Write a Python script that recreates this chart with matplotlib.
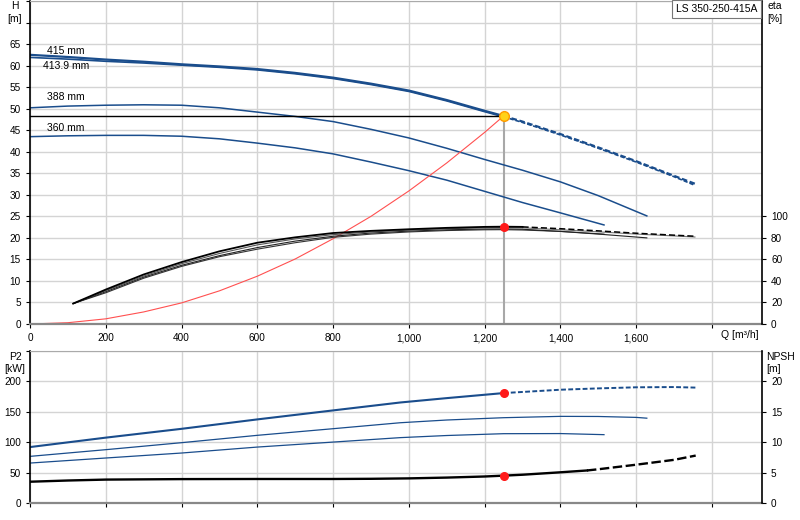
import numpy as np
import matplotlib
matplotlib.use('Agg')
import matplotlib.pyplot as plt
from matplotlib.ticker import FixedLocator, FuncFormatter

plt.rcParams['font.family'] = ['Liberation Sans', 'DejaVu Sans']

# ---- data ----
q_415 = [0, 100, 200, 300, 400, 500, 600, 700, 800, 900, 1000, 1100, 1200, 1250, 1300, 1400, 1500, 1600, 1700, 1760]
h_415 = [62.5, 62.0, 61.4, 60.9, 60.3, 59.8, 59.2, 58.3, 57.2, 55.8, 54.2, 52.0, 49.5, 48.3, 47.0, 44.1, 41.0, 37.8, 34.4, 32.4]
q_413 = [0, 100, 200, 300, 400, 500, 600, 700, 800, 900, 1000, 1100, 1200, 1250, 1300, 1400, 1500, 1600, 1700, 1755]
h_413 = [61.9, 61.5, 61.0, 60.6, 60.1, 59.6, 59.0, 58.1, 57.0, 55.6, 54.0, 51.8, 49.3, 48.1, 46.8, 43.9, 40.8, 37.6, 34.2, 32.2]
q_388 = [0, 100, 200, 300, 400, 500, 600, 700, 800, 900, 1000, 1100, 1200, 1300, 1400, 1500, 1628]
h_388 = [50.2, 50.6, 50.8, 50.9, 50.8, 50.2, 49.2, 48.2, 47.0, 45.2, 43.2, 40.8, 38.2, 35.7, 33.0, 29.8, 25.1]
q_360 = [0, 100, 200, 300, 400, 500, 600, 700, 800, 900, 1000, 1100, 1200, 1300, 1400, 1515]
h_360 = [43.5, 43.7, 43.8, 43.8, 43.6, 43.0, 42.0, 40.9, 39.5, 37.6, 35.6, 33.4, 30.8, 28.2, 25.8, 23.0]

# system curve
q_sys = [0, 100, 200, 300, 400, 500, 600, 700, 800, 900, 1000, 1100, 1200, 1250]
h_sys = [0, 0.3, 1.2, 2.8, 4.9, 7.7, 11.1, 15.1, 19.8, 25.0, 30.9, 37.4, 44.5, 48.3]

# efficiency [%]
q_eta = [114, 200, 300, 400, 500, 600, 700, 800, 900, 1000, 1100, 1200, 1250, 1300, 1400, 1500, 1600, 1700, 1755]
eta_415 = [19, 32, 46, 57.5, 67.5, 75.5, 80.5, 84.5, 86.5, 88, 89.3, 90.2, 90.4, 90.2, 88.5, 86.5, 84.3, 82.5, 81.5]
eta_413 = [19, 31, 44.5, 56, 65.5, 73.5, 79, 83, 85.5, 87.2, 88.5, 89.3, 89.5, 89.3, 87.5, 85.6, 83.5, 81.8, 80.8]
q_eta388 = [114, 200, 300, 400, 500, 600, 700, 800, 900, 1000, 1100, 1200, 1250, 1300, 1400, 1500, 1628]
eta_388 = [19, 30, 43.5, 54.5, 63.5, 71, 77, 81.5, 84.5, 86.3, 87.5, 88.2, 88.3, 88, 86, 83.5, 80]
q_eta360 = [114, 200, 300, 400, 500, 600, 700, 800, 900, 1000, 1100, 1200, 1250, 1300, 1400, 1515]
eta_360 = [19, 29, 42.5, 53.5, 62.5, 69.5, 75.5, 80.5, 83.5, 85.5, 86.8, 87.5, 87.6, 87.3, 86, 83.5]

# shaft power P2 [kW]
q_p415 = [0, 200, 400, 600, 800, 977, 1100, 1250, 1400, 1500, 1600, 1700, 1757]
p2_415 = [92, 107.5, 122, 137.5, 152.3, 165.3, 172.5, 180.8, 186.3, 188.5, 190.3, 190.7, 189.8]
q_p388 = [0, 200, 400, 600, 800, 977, 1100, 1250, 1400, 1500, 1600, 1628]
p2_388 = [76.7, 87.7, 99.2, 111.3, 122.2, 132, 136.5, 140.3, 142.5, 142.3, 140.8, 139.5]
q_p360 = [0, 200, 400, 600, 800, 977, 1100, 1250, 1400, 1515]
p2_360 = [65.7, 74, 82.2, 92, 100.2, 107.5, 111, 114, 114.2, 112.4]

# NPSH [m]
q_npsh = [0, 100, 200, 400, 600, 800, 900, 1000, 1100, 1200, 1250, 1300, 1400, 1470, 1500, 1600, 1700, 1757]
npsh = [3.5, 3.7, 3.85, 3.93, 3.95, 3.95, 3.98, 4.05, 4.18, 4.36, 4.5, 4.65, 5.05, 5.35, 5.55, 6.3, 7.1, 7.8]

op_q, op_h, op_eta, op_p2, op_npsh = 1250, 48.3, 90.2, 180.8, 4.5

diam_labels = ['415 mm', '413.9 mm', '388 mm', '360 mm']
diam_label_pos = [(45, 63.4), (34, 60.0), (45, 52.8), (45, 45.6)]

blue = '#1a4d8c'
grid_c = '#d4d4d4'


def split(q, v, at):
    q = np.asarray(q, float)
    v = np.asarray(v, float)
    return (q[q <= at], v[q <= at]), (q[q >= at], v[q >= at])


def q_fmt(x, pos):
    if x >= 1800:
        return ''
    return f'{int(x):,}'


fig = plt.figure(figsize=(8, 5.2), dpi=100)
ax1 = fig.add_axes([30 / 800, 1 - 324 / 520, 732 / 800, 323 / 520])
ax2 = fig.add_axes([30 / 800, 1 - 503 / 520, 732 / 800, 152 / 520])

for ax in (ax1, ax2):
    ax.set_xlim(0, 1932)
    ax.xaxis.set_major_locator(FixedLocator(np.arange(0, 1801, 200)))
    ax.grid(True, color=grid_c, lw=1)
    ax.set_axisbelow(True)
    ax.tick_params(direction='out', length=3, labelsize=7.2, width=0.8)
    ax.spines['left'].set_color('black')
    ax.spines['left'].set_linewidth(1.2)
    ax.spines['bottom'].set_color('#888888')
    ax.spines['bottom'].set_linewidth(1.6)
    ax.spines['top'].set_color('#aaaaaa')
    ax.spines['right'].set_visible(False)

ax1.set_ylim(0, 75)
ax1.yaxis.set_major_locator(FixedLocator(np.arange(0, 76, 5)))
ax1.yaxis.set_major_formatter(FuncFormatter(lambda y, p: '' if y > 65 else f'{int(y)}'))
ax1.xaxis.set_major_formatter(FuncFormatter(q_fmt))

ax2.set_ylim(0, 250)
ax2.yaxis.set_major_locator(FixedLocator(np.arange(0, 251, 50)))
ax2.yaxis.set_major_formatter(FuncFormatter(lambda y, p: '' if y > 200 else f'{int(y)}'))
ax2.xaxis.set_major_formatter(FuncFormatter(lambda x, p: ''))

# right axes
ax1r = ax1.twinx()
ax1r.set_ylim(0, 300)
ax1r.yaxis.set_major_locator(FixedLocator(np.arange(0, 101, 20)))
ax2r = ax2.twinx()
ax2r.set_ylim(0, 25)
ax2r.yaxis.set_major_locator(FixedLocator(np.arange(0, 21, 5)))
for axr in (ax1r, ax2r):
    axr.tick_params(direction='out', length=3, labelsize=7.2, width=0.8)
    axr.spines['right'].set_color('black')
    axr.spines['right'].set_linewidth(1.2)
    for s in ('left', 'top', 'bottom'):
        axr.spines[s].set_visible(False)

# ---- H curves ----
dash = (0, (2.5, 1.2))
for q, h, lw in ((q_413, h_413, 1.2), (q_415, h_415, 1.6)):
    (qs, hs), (qd, hd) = split(q, h, op_q)
    ax1.plot(qs, hs, color=blue, lw=lw)
    ax1.plot(qd, hd, color=blue, lw=lw, ls=dash)
ax1.plot(q_388, h_388, color=blue, lw=1.1)
ax1.plot(q_360, h_360, color=blue, lw=1.1)

for txt, (x, y) in zip(diam_labels, diam_label_pos):
    ax1.text(x, y, txt, fontsize=7.5, va='center', ha='left')

ax1.plot(q_sys, h_sys, color='#ff5050', lw=0.8)
ax1.plot([0, op_q], [op_h, op_h], color='black', lw=1.0)
ax1.plot([op_q, op_q], [0, op_h], color='#a8a8a8', lw=1.5, zorder=1.5)

# ---- efficiency ----
ax1r.plot(q_eta360, eta_360, color='#333333', lw=0.8)
ax1r.plot(q_eta388, eta_388, color='#222222', lw=0.8)
(qs, es), (qd, ed) = split(q_eta, eta_413, 1300)
ax1r.plot(qs, es, color='#555555', lw=0.8)
ax1r.plot(qd, ed, color='#777777', lw=0.8)
(qs, es), (qd, ed) = split(q_eta, eta_415, 1300)
ax1r.plot(qs, es, color='black', lw=1.3)
ax1r.plot(qd, ed, color='black', lw=1.1, ls=(0, (4, 2)))

ax1r.plot(op_q, op_eta, 'o', color='#ff1a1a', ms=5.5, zorder=5)
ax1.plot(op_q, op_h, 'o', mfc='#ffd21a', mec='#ff9a00', ms=7, mew=1, zorder=6)

# ---- P2 ----
(qs, ps), (qd, pd) = split(q_p415, p2_415, op_q)
ax2.plot(qs, ps, color=blue, lw=1.5)
ax2.plot(qd, pd, color=blue, lw=1.4, ls=dash)
ax2.plot(q_p388, p2_388, color=blue, lw=0.9)
ax2.plot(q_p360, p2_360, color=blue, lw=0.9)
ax2.plot(op_q, op_p2, 'o', color='#ff1a1a', ms=5.5, zorder=5)

# ---- NPSH ----
(qs, ns), (qd, nd) = split(q_npsh, npsh, 1470)
ax2r.plot(qs, ns, color='black', lw=1.7)
ax2r.plot(qd, nd, color='black', lw=1.7, ls=(0, (4, 1.5)))
ax2r.plot(op_q, op_npsh, 'o', color='#ff1a1a', ms=5.5, zorder=5)

# ---- axis captions ----
fig.text(15 / 800, 1 - 12.5 / 520, 'H\n[m]', ha='center', va='center', fontsize=7.5, linespacing=1.35)
fig.text(767 / 800, 1 - 12.5 / 520, 'eta\n[%]', ha='left', va='center', fontsize=7.5, linespacing=1.35)
fig.text(15 / 800, 1 - 363 / 520, 'P2\n[kW]', ha='center', va='center', fontsize=7.5, linespacing=1.35)
fig.text(766 / 800, 1 - 363 / 520, 'NPSH\n[m]', ha='left', va='center', fontsize=7.5, linespacing=1.35)
fig.text(721 / 800, 1 - 335 / 520, 'Q [m³/h]', ha='left', va='center', fontsize=7.5)
fig.text(757 / 800, 1 - 9 / 520, 'LS 350-250-415A', ha='right', va='center', fontsize=7.5,
         bbox=dict(boxstyle='square,pad=0.35', fc='white', ec='#777777', lw=0.8))

fig.savefig('out.png', dpi=100)
